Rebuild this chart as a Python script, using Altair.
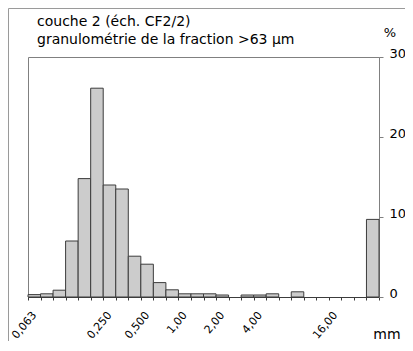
import json
import altair as alt
import pandas as pd

# ---- data ----
bins = list(range(28))
pct = [0.3, 0.4, 0.85, 7.0, 14.8, 26.1, 14.0, 13.5, 5.1, 4.1, 1.8, 0.9,
       0.4, 0.4, 0.4, 0.25, 0.0, 0.25, 0.25, 0.4, 0.0, 0.65, 0.0, 0.0,
       0.0, 0.0, 0.0, 9.7]
labels = ["0,063", "", "", "", "", "", "0,250", "", "", "0,500", "", "",
          "1,00", "", "", "2,00", "", "", "4,00", "", "", "", "", "",
          "16,00", "", "", ""]
y_ticks = [0, 10, 20, 30]
title1 = "couche 2 (éch. CF2/2)"
title2 = "granulométrie de la fraction >63 µm"
unit_y = "%"
unit_x = "mm"

FONT = "DejaVu Sans"
W, H = 351, 240

df = pd.DataFrame({"k": bins, "pct": pct})
label_expr = json.dumps(labels) + "[datum.value]"

bars = (
    alt.Chart(df)
    .transform_filter("datum.pct > 0")
    .mark_bar(fill="#cccccc", stroke="#3c3c3c", strokeWidth=1)
    .encode(
        x=alt.X(
            "k:O",
            scale=alt.Scale(domain=bins, paddingInner=0, paddingOuter=0),
            axis=alt.Axis(
                title=None, labelExpr=label_expr, tickBand="extent",
                labelAngle=-50, labelAlign="right", labelBaseline="middle",
                labelPadding=13, tickSize=3, domainColor="#3c3c3c",
                tickColor="#3c3c3c", labelFont=FONT, labelFontSize=11,
                labelColor="#000000", grid=False, labelOverlap=False,
            ),
        ),
        y=alt.Y(
            "pct:Q",
            scale=alt.Scale(domain=[0, 30], nice=False),
            axis=alt.Axis(
                orient="right", values=y_ticks, title=None, tickSize=4,
                labelPadding=6, labelOffset=-4, domainColor="#808080",
                tickColor="#808080", labelFont=FONT, labelFontSize=13,
                labelColor="#000000", grid=False,
            ),
        ),
    )
)

one = pd.DataFrame({"a": [0]})

t1 = alt.Chart(pd.DataFrame({"t": [title1]})).mark_text(
    align="left", baseline="alphabetic", font=FONT, fontSize=14, color="#000"
).encode(x=alt.value(9), y=alt.value(-31), text="t:N")
t2 = alt.Chart(pd.DataFrame({"t": [title2]})).mark_text(
    align="left", baseline="alphabetic", font=FONT, fontSize=14, color="#000"
).encode(x=alt.value(9), y=alt.value(-13), text="t:N")
tp = alt.Chart(pd.DataFrame({"t": [unit_y]})).mark_text(
    align="center", baseline="alphabetic", font=FONT, fontSize=13, color="#000"
).encode(x=alt.value(362), y=alt.value(-20), text="t:N")
tm = alt.Chart(pd.DataFrame({"t": [unit_x]})).mark_text(
    align="center", baseline="alphabetic", font=FONT, fontSize=14, color="#000"
).encode(x=alt.value(359), y=alt.value(H + 42), text="t:N")

frame_top = alt.Chart(one).mark_rule(color="#9a9a9a", strokeWidth=1).encode(
    x=alt.value(-19.5), x2=alt.value(W + 30), y=alt.value(-48.5)
)
frame_left = alt.Chart(one).mark_rule(color="#9a9a9a", strokeWidth=1).encode(
    x=alt.value(-19.5), y=alt.value(-48.5), y2=alt.value(H + 50)
)

chart = (
    alt.layer(bars, t1, t2, tp, tm, frame_top, frame_left)
    .properties(
        width=W, height=H,
        autosize=alt.AutoSizeParams(type="none"),
        padding={"left": 20, "top": 49, "right": 26, "bottom": 44},
        background="#ffffff",
    )
    .configure_view(stroke="#808080", strokeWidth=1)
)

chart.save("out.html", embed_options={"renderer": "svg", "actions": False})
